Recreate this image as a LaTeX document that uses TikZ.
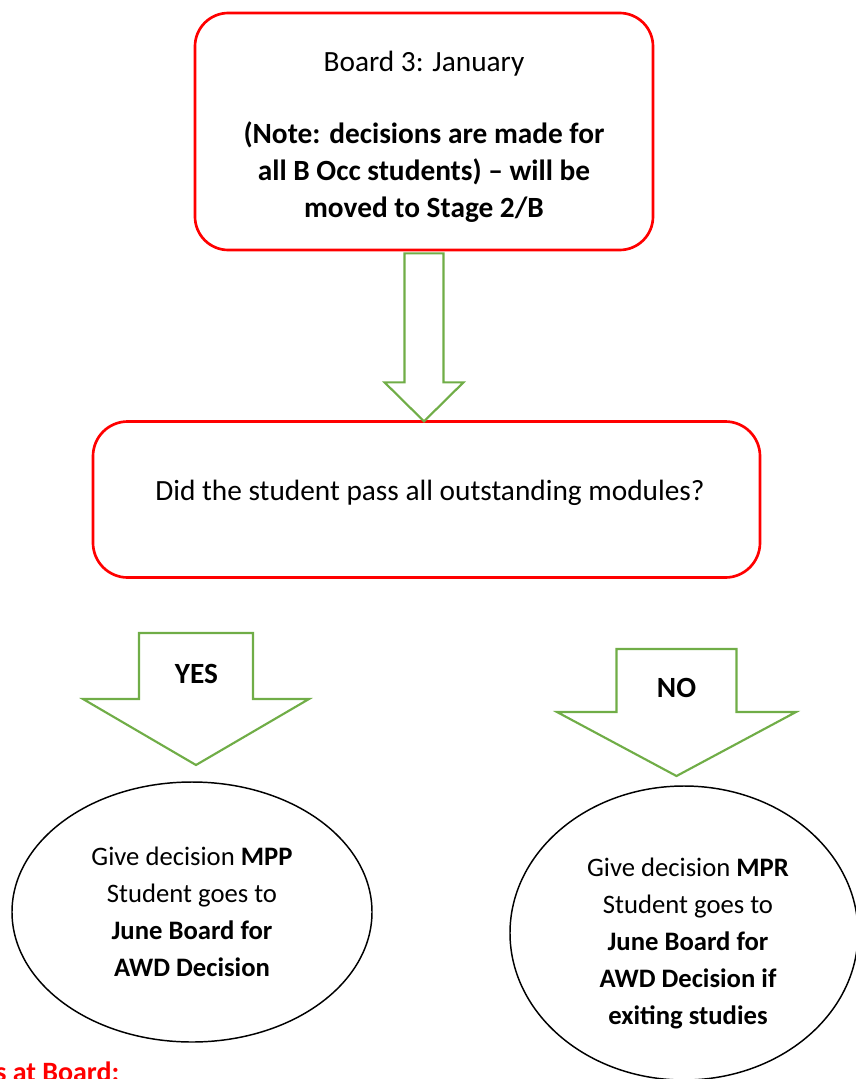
\documentclass[tikz,border=0pt]{standalone}
\usepackage{fontspec}
\setmainfont{Carlito}
\usetikzlibrary{shapes.geometric}
\definecolor{boxred}{RGB}{255,0,0}
\definecolor{arrowgreen}{RGB}{112,173,71}

\begin{document}
\begin{tikzpicture}[x=0.75pt,y=-0.75pt]
\tikzstyle{redbox}=[draw=boxred,line width=2pt,rounded corners=25pt,align=center]
\tikzstyle{oval}=[draw,ellipse,line width=1.1pt,inner sep=0pt,align=center]
\tikzstyle{greenarr}=[draw=arrowgreen,line width=1.6pt,line join=miter]
\tikzstyle{txt}=[font=\fontsize{22}{28}\selectfont]
\tikzstyle{ovaltxt}=[align=center,font=\fontsize{20}{27.75}\selectfont]

\useasboundingbox (0,0) rectangle (856,1079);
\clip (0,0) rectangle (856,1079);

% boxes
\node[redbox,txt,minimum width=343.5pt,minimum height=177.75pt] at (424,131.5) (board)
  {\rule{0pt}{23pt}Board 3: January\\[26pt]\textbf{(Note: decisions are made for}\\\textbf{all B Occ students) – will be}\\\textbf{moved to Stage 2/B}};
\node[redbox,minimum width=500.25pt,minimum height=117pt,rounded corners=26pt] at (426.5,499.5) (question) {};
\node[txt,anchor=base] at (430,500) (questiontxt) {Did the student pass all outstanding modules?};

% block arrows
\draw[greenarr,shift={(board.south)}] (-19.5,2) -- (-19.5,131) -- (-39.5,131) -- (0,170)
  -- (39.5,131) -- (19.5,131) -- (19.5,2) -- cycle;

\coordinate (yestop) at (196,633);
\draw[greenarr,shift={(yestop)}] (-57,0) -- (-57,66) -- (-113,66) -- (0,132)
  -- (113,66) -- (57,66) -- (57,0) -- cycle;
\node[txt,anchor=base] at (196.5,683) (yes) {\textbf{YES}};

\coordinate (notop) at (676.5,649);
\draw[greenarr,shift={(notop)}] (-60,0) -- (-60,63) -- (-119.5,63) -- (0,127)
  -- (119.5,63) -- (60,63) -- (60,0) -- cycle;
\node[txt,anchor=base] at (676.5,697) (no) {\textbf{NO}};

% outcomes
\node[oval,ovaltxt,minimum width=270pt,minimum height=195pt] at (192,912) (mpp)
  {Give decision \textbf{MPP}\\Student goes to\\\textbf{June Board for}\\\textbf{AWD Decision}};
\node[oval,minimum width=261pt,minimum height=220.5pt] at (684,933) (mpr) {};
\node[ovaltxt,anchor=base] at (688,1024) (mprtxt)
  {Give decision \textbf{MPR}\\Student goes to\\\textbf{June Board for}\\\textbf{AWD Decision if}\\\textbf{exiting studies}};

\node[anchor=base east,text=boxred,font=\fontsize{21}{28}\selectfont] at (124,1081) (atboard) {\textbf{s at Board:}};
\end{tikzpicture}
\end{document}
